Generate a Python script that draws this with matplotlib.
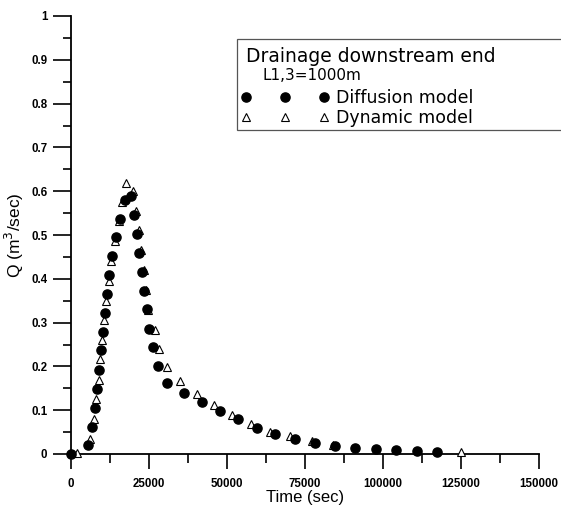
import matplotlib
matplotlib.use('Agg')
import matplotlib.pyplot as plt
from matplotlib.lines import Line2D
from matplotlib.patches import Rectangle
from matplotlib.ticker import MultipleLocator

plt.rcParams['font.family'] = 'Liberation Sans'

# diffusion model (filled circles)
diff_t = [0, 5450, 6830, 7800, 8440, 9080, 9620, 10150, 10790, 11540, 12290, 13250,
          14420, 15700, 17200, 19330, 20190, 21060, 21900, 22760, 23500, 24260, 25100,
          26380, 27790, 30670, 36100, 41900, 47760, 53430, 59520, 65490, 71790, 78200,
          84620, 91120, 97760, 104170, 110800, 117210]
diff_q = [0.0, 0.021, 0.062, 0.106, 0.148, 0.192, 0.237, 0.279, 0.323, 0.365, 0.408, 0.451,
          0.495, 0.537, 0.580, 0.589, 0.545, 0.502, 0.458, 0.416, 0.372, 0.330, 0.286,
          0.244, 0.201, 0.163, 0.139, 0.119, 0.099, 0.079, 0.060, 0.046, 0.034, 0.025,
          0.019, 0.014, 0.011, 0.008, 0.007, 0.005]

# dynamic model (open triangles)
dyn_t = [1800, 6090, 7270, 8010, 8880, 9400, 10040, 10680, 11310, 12180, 12920, 14000,
         15280, 16240, 17630, 19780, 20830, 21800, 22440, 23300, 24000, 24800, 26920,
         28200, 30770, 34940, 40290, 45930, 51700, 57690, 63780, 70190, 77150, 83900,
         125000]
dyn_q = [0.003, 0.035, 0.079, 0.125, 0.169, 0.216, 0.260, 0.306, 0.350, 0.396, 0.441, 0.486,
         0.531, 0.575, 0.618, 0.601, 0.555, 0.511, 0.466, 0.420, 0.375, 0.328, 0.283,
         0.240, 0.199, 0.167, 0.138, 0.113, 0.089, 0.068, 0.051, 0.040, 0.029, 0.021,
         0.005]

x_ticks = [0, 25000, 50000, 75000, 100000, 125000, 150000]
x_labels = ['0', '25000', '50000', '75000', '100000', '125000', '150000']
y_ticks = [0, 0.1, 0.2, 0.3, 0.4, 0.5, 0.6, 0.7, 0.8, 0.9, 1.0]
y_labels = ['0', '0.1', '0.2', '0.3', '0.4', '0.5', '0.6', '0.7', '0.8', '0.9', '1']

W, H = 561, 507
fig = plt.figure(figsize=(W / 100, H / 100), dpi=100)
ax = fig.add_axes([71 / W, 1 - 454 / H, (539 - 71) / W, (454 - 16) / H])

dyn_style = dict(linestyle='none', marker='^', markersize=5.2, markerfacecolor='white',
                 markeredgecolor='black', markeredgewidth=0.8)
diff_style = dict(linestyle='none', marker='o', markersize=6.6, color='black')

ax.plot(dyn_t, dyn_q, **dyn_style, clip_on=False, zorder=3)
ax.plot(diff_t, diff_q, **diff_style, clip_on=False, zorder=4)

ax.set_xlim(0, 150000)
ax.set_ylim(0, 1)
ax.set_xticks(x_ticks)
ax.set_xticklabels(x_labels)
ax.set_yticks(y_ticks)
ax.set_yticklabels(y_labels)
ax.xaxis.set_minor_locator(MultipleLocator(12500))
ax.yaxis.set_minor_locator(MultipleLocator(0.05))

for s in ['top', 'right']:
    ax.spines[s].set_visible(False)
for s in ['left', 'bottom']:
    ax.spines[s].set_linewidth(1.3)

ax.tick_params(axis='y', which='major', direction='out', length=13, width=1.2, pad=4)
ax.tick_params(axis='y', which='minor', direction='out', length=6, width=1.2)
ax.tick_params(axis='x', which='major', direction='out', length=10.5, width=1.2, pad=7)
ax.tick_params(axis='x', which='minor', direction='out', length=6.5, width=1.2)
for lab in ax.get_xticklabels() + ax.get_yticklabels():
    lab.set_fontweight('bold')
    lab.set_fontsize(8.3)

ax.set_xlabel('Time (sec)', fontsize=12, labelpad=0)
ax.set_ylabel('Q (m$^3$/sec)', fontsize=12.5, labelpad=4)

# legend box
legend_font = ['DejaVu Sans']
fig.patches.append(Rectangle((236.5 / W, 1 - 130 / H), (562 - 236.5) / W, (130 - 39.5) / H,
                             transform=fig.transFigure, facecolor='white',
                             edgecolor='#555555', linewidth=0.9, zorder=5))
fig.text(246 / W, 1 - 62 / H, 'Drainage downstream end', fontsize=13.5, va='baseline',
         ha='left', family=legend_font, zorder=6)
fig.text(263 / W, 1 - 79.5 / H, 'L1,3=1000m', fontsize=11, va='baseline', ha='left',
         family=legend_font, zorder=6)

handles = [Line2D([], [], **diff_style), Line2D([], [], **dyn_style)]
leg = fig.legend(handles, ['Diffusion model', 'Dynamic model'], numpoints=3,
                 loc='upper left', bbox_to_anchor=(241 / W, 1 - 89 / H), frameon=False,
                 prop={'family': legend_font, 'size': 12.5}, handlelength=5.1,
                 handletextpad=0.35, labelspacing=0.12, borderpad=0, borderaxespad=0)
leg.set_zorder(7)

fig.savefig('out.png', dpi=100)
